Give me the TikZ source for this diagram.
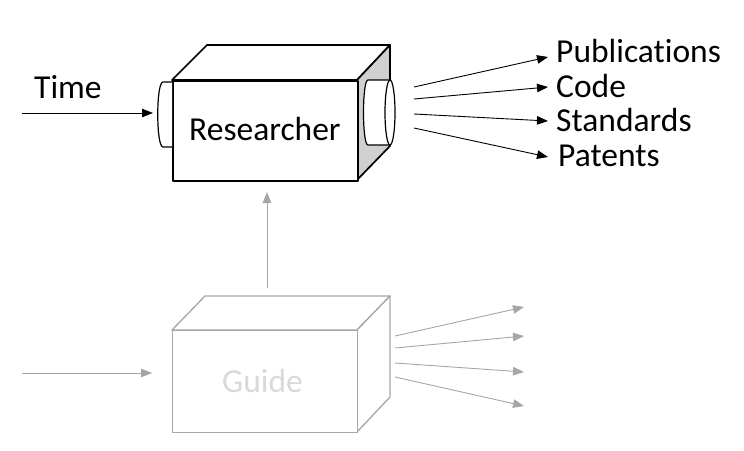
\documentclass[tikz,border=0pt]{standalone}
\usepackage{fontspec}
\setmainfont{Carlito}[Ligatures=NoCommon]
\usetikzlibrary{arrows.meta}
\definecolor{ghost}{HTML}{A6A6A6}
\definecolor{ghosttext}{HTML}{D9D9D9}
\definecolor{sidegray}{HTML}{D0D0D0}
\tikzset{
  boxline/.style={line width=1.7pt, line join=round},
  arr/.style={line width=0.9pt, -{Triangle[length=11pt,width=8.5pt]}},
  lbl/.style={anchor=base west, inner sep=0pt, font=\fontsize{33.5}{40}\selectfont},
  ghostline/.style={draw=ghost, line width=1.3pt, line join=round},
  ghostarr/.style={draw=ghost, line width=0.9pt, -{Triangle[length=11pt,width=8.5pt]}, ghost}
}
\begin{document}
\begin{tikzpicture}[x=1pt,y=-1pt]
\useasboundingbox (0,0) rectangle (744,450);
% ---------- Researcher box ----------
\coordinate (rtl) at (172,80);
\coordinate (rtr) at (357,80);
\coordinate (rbr) at (357,180);
\coordinate (rbtl) at (207,45);
\coordinate (rbtr) at (390,45);
\coordinate (rbbr) at (390,146);
\draw[boxline, fill=white] (rtl) -- (rbtl) -- (rbtr) -- (rtr) -- cycle;
\draw[boxline, fill=sidegray] (rtr) -- (rbtr) -- (rbbr) -- (rbr) -- cycle;
\node[boxline, draw, fill=white, minimum width=185pt, minimum height=100pt, inner sep=0pt, anchor=north west] (res) at (rtl) {};
\node[lbl] (restext) at (189,140) {Researcher};
% left cylinder
\draw[boxline, line width=1.2pt, fill=white] (172,82) -- (163,82) .. controls (156,82) and (156,147) .. (163,147) -- (172,147);
% right cylinder
\draw[boxline, line width=1.2pt, fill=white] (390,80) -- (368,80) .. controls (362,80) and (362,145) .. (368,145) -- (390,145);
\draw[boxline, line width=1.2pt, fill=white] (390,112.5) ellipse [x radius=5, y radius=32.5];
% input
\coordinate (tin) at (22,113);
\coordinate (tend) at (153,113);
\draw[arr] (tin) -- (tend);
\node[lbl] (time) at (34,98) {Time};
% outputs
\coordinate (o1) at (414,87);
\coordinate (o2) at (414,99);
\coordinate (o3) at (414,114);
\coordinate (o4) at (414,128);
\node[lbl] (pub) at (556,62) {Publications};
\node[lbl] (code) at (556,97) {Code};
\node[lbl] (std) at (556,131) {Standards};
\node[lbl] (pat) at (558,166) {Patents};
\coordinate (e1) at (548,57);
\coordinate (e2) at (548,87);
\coordinate (e3) at (548,121);
\coordinate (e4) at (548,157);
\draw[arr] (o1) -- (e1);
\draw[arr] (o2) -- (e2);
\draw[arr] (o3) -- (e3);
\draw[arr] (o4) -- (e4);
% ---------- Guide box ----------
\coordinate (gtl) at (172,330);
\coordinate (gtr) at (357,330);
\coordinate (gbr) at (357,432);
\coordinate (gbtl) at (205,296);
\coordinate (gbtr) at (390,296);
\coordinate (gbbr) at (390,397);
\draw[ghostline, fill=white] (gtl) -- (gbtl) -- (gbtr) -- (gtr) -- cycle;
\draw[ghostline, fill=white] (gtr) -- (gbtr) -- (gbbr) -- (gbr) -- cycle;
\node[ghostline, draw, fill=white, minimum width=185pt, minimum height=102pt, inner sep=0pt, anchor=north west] (guide) at (gtl) {};
\node[lbl, text=ghosttext] (guidetext) at (222,392) {Guide};
\coordinate (gin) at (22,373);
\coordinate (gend) at (152,373);
\draw[ghostarr] (gin) -- (gend);
\coordinate (g1) at (395,336);
\coordinate (g2) at (395,348);
\coordinate (g3) at (395,363);
\coordinate (g4) at (395,377);
\coordinate (h1) at (524,307);
\coordinate (h2) at (524,336);
\coordinate (h3) at (524,372);
\coordinate (h4) at (524,406);
\draw[ghostarr] (g1) -- (h1);
\draw[ghostarr] (g2) -- (h2);
\draw[ghostarr] (g3) -- (h3);
\draw[ghostarr] (g4) -- (h4);
% vertical
\coordinate (vs) at (267,288);
\coordinate (ve) at (267,192);
\draw[ghostarr] (vs) -- (ve);
\end{tikzpicture}
\end{document}
